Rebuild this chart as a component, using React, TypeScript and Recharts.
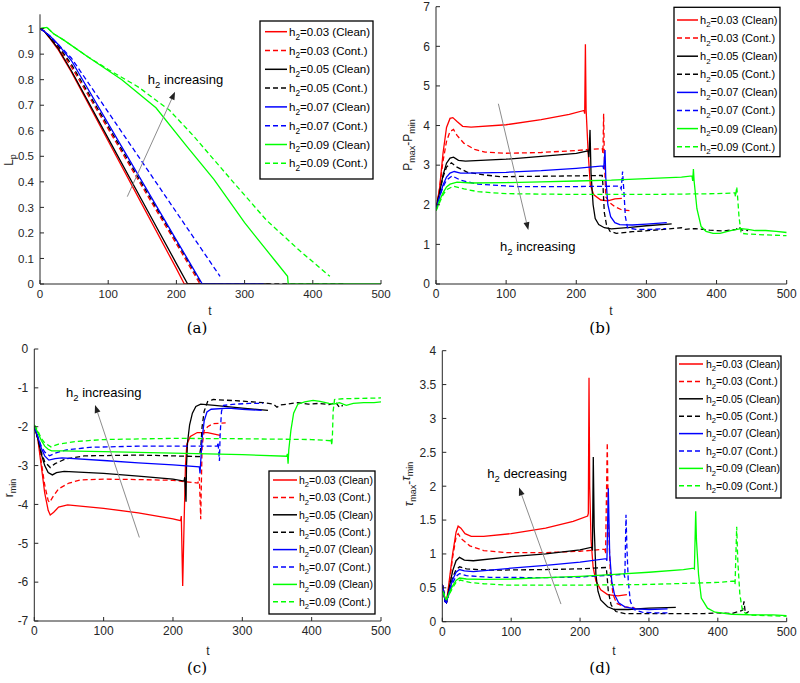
import React from 'react'
import { LineChart, Line, XAxis, YAxis, ReferenceLine, ReferenceDot } from 'recharts'

type Pt = [number, number]

// axis ticks
const T_TICKS = [0, 100, 200, 300, 400, 500]
const LP_TICKS = [0, 0.1, 0.2, 0.3, 0.4, 0.5, 0.6, 0.7, 0.8, 0.9, 1]
const DP_TICKS = [0, 1, 2, 3, 4, 5, 6, 7]
const RMIN_TICKS = [-7, -6, -5, -4, -3, -2, -1, 0]
const TAU_TICKS = [0, 0.5, 1, 1.5, 2, 2.5, 3, 3.5, 4]

const H2_VALUES = ['0.03', '0.05', '0.07', '0.09']
const CASES = ['Clean', 'Cont.']
const COLORS = ['#ff0000', '#000000', '#0000ff', '#00ff00']

// (a) L_p vs t
const lpClean03: Pt[] = [[0, 1], [6, 0.99], [15, 0.96], [26, 0.92], [46, 0.83], [100, 0.56], [150, 0.31], [200, 0.06], [211.6, 0], [265, 0]]
const lpCont03: Pt[] = [[0, 1], [6, 0.99], [15, 0.965], [26, 0.93], [46, 0.85], [100, 0.607], [150, 0.38], [200, 0.157], [234.6, 0], [278, 0]]
const lpClean05: Pt[] = [[0, 1], [6, 0.99], [15, 0.962], [26, 0.925], [46, 0.835], [100, 0.57], [150, 0.325], [200, 0.08], [216.5, 0], [337, 0]]
const lpCont05: Pt[] = [[0, 1], [6, 0.99], [15, 0.968], [26, 0.935], [46, 0.86], [100, 0.617], [150, 0.39], [200, 0.167], [237, 0], [445, 0]]
const lpClean07: Pt[] = [[0, 1], [6, 0.99], [15, 0.97], [26, 0.94], [46, 0.875], [100, 0.628], [150, 0.4], [200, 0.172], [238, 0], [328, 0]]
const lpCont07: Pt[] = [[0, 1], [6, 0.99], [15, 0.97], [26, 0.94], [46, 0.885], [100, 0.673], [150, 0.477], [200, 0.281], [240, 0.124], [264, 0.03]]
const lpClean09: Pt[] = [[0, 1], [10, 1.005], [20, 0.98], [35, 0.955], [70, 0.89], [120, 0.8], [170, 0.69], [215, 0.54], [255, 0.41], [300, 0.24], [345, 0.09], [363, 0.03], [364, 0], [500, 0]]
const lpCont09: Pt[] = [[0, 1], [10, 1.005], [20, 0.98], [35, 0.955], [70, 0.89], [100, 0.84], [145, 0.77], [190, 0.68], [225, 0.58], [283, 0.4], [332, 0.25], [381, 0.13], [425, 0.03]]

// (b) P_max - P_min vs t
const dpClean03: Pt[] = [[0, 1.9], [5, 2.4], [10, 3.3], [15, 3.95], [20, 4.18], [24, 4.2], [30, 4.1], [38, 3.98], [50, 3.96], [100, 4.02], [150, 4.15], [190, 4.28], [211, 4.38], [212, 4.3], [213, 6.05], [214, 4.4], [217, 3.3], [220, 2.5], [225, 2.25], [235, 2.12], [245, 2.1], [255, 2.15], [265, 2.16]]
const dpCont03: Pt[] = [[0, 1.9], [5, 2.4], [10, 3.1], [15, 3.6], [20, 3.85], [25, 3.9], [30, 3.75], [40, 3.55], [55, 3.4], [70, 3.33], [100, 3.3], [150, 3.32], [200, 3.37], [237, 3.42], [238, 3.3], [239, 4.3], [240, 3.2], [242, 2.2], [248, 2.05], [255, 1.95], [265, 1.87], [276, 1.85]]
const dpClean05: Pt[] = [[0, 1.9], [5, 2.3], [10, 2.75], [15, 3.05], [20, 3.18], [25, 3.2], [32, 3.12], [42, 3.1], [100, 3.15], [150, 3.22], [200, 3.3], [217, 3.36], [218, 3.2], [219.6, 3.89], [221, 2.8], [224, 2.0], [227, 1.65], [232, 1.5], [240, 1.42], [250, 1.39], [277, 1.43], [300, 1.47], [336, 1.52]]
const dpCont05: Pt[] = [[0, 1.9], [5, 2.3], [10, 2.7], [15, 2.95], [22, 3.06], [30, 2.95], [45, 2.82], [70, 2.75], [92, 2.71], [150, 2.72], [200, 2.73], [237, 2.74], [238, 2.5], [240, 1.8], [243, 1.5], [248, 1.33], [257, 1.28], [280, 1.32], [320, 1.37], [350, 1.42], [355, 1.38], [370, 1.4], [390, 1.36], [410, 1.34], [428, 1.38], [432, 1.44], [436, 1.36], [445, 1.35]]
const dpClean07: Pt[] = [[0, 1.9], [5, 2.2], [10, 2.5], [15, 2.7], [20, 2.8], [26, 2.84], [35, 2.8], [45, 2.8], [100, 2.82], [150, 2.86], [200, 2.92], [238, 2.98], [239, 2.9], [241, 3.38], [242, 2.7], [245, 2.0], [249, 1.7], [255, 1.55], [262, 1.5], [280, 1.49], [300, 1.51], [329, 1.55]]
const dpCont07: Pt[] = [[0, 1.9], [5, 2.2], [10, 2.45], [15, 2.62], [23, 2.73], [35, 2.62], [60, 2.52], [116, 2.46], [200, 2.46], [262, 2.47], [264, 2.4], [266, 2.84], [268, 2.3], [270, 1.7], [273, 1.42], [285, 1.38], [310, 1.38], [328, 1.4]]
const dpClean09: Pt[] = [[0, 1.85], [5, 2.1], [10, 2.3], [15, 2.45], [20, 2.52], [30, 2.57], [50, 2.55], [100, 2.56], [150, 2.58], [200, 2.6], [250, 2.62], [300, 2.66], [350, 2.7], [365, 2.73], [366, 2.6], [367, 2.9], [368, 2.6], [372, 1.9], [378, 1.45], [385, 1.33], [395, 1.28], [405, 1.28], [420, 1.35], [435, 1.4], [445, 1.38], [455, 1.35], [470, 1.35], [485, 1.33], [500, 1.3]]
const dpCont09: Pt[] = [[0, 1.85], [5, 2.05], [10, 2.25], [15, 2.38], [25, 2.47], [40, 2.4], [60, 2.33], [100, 2.28], [200, 2.26], [300, 2.26], [400, 2.28], [426, 2.3], [427, 2.2], [428.8, 2.45], [430, 2.2], [432, 1.7], [435, 1.28], [445, 1.26], [470, 1.24], [500, 1.22]]

// (c) r_min vs t
const rmClean03: Pt[] = [[0, -2], [5, -2.3], [10, -3.0], [15, -3.7], [20, -4.15], [23, -4.27], [28, -4.2], [35, -4.07], [48, -4.01], [100, -4.1], [150, -4.22], [200, -4.37], [211, -4.42], [212, -4.3], [214, -6.1], [216, -4.5], [218, -3.0], [220, -2.45], [225, -2.25], [235, -2.15], [250, -2.15], [268, -2.22]]
const rmCont03: Pt[] = [[0, -2], [5, -2.3], [10, -2.9], [15, -3.5], [20, -3.9], [22, -3.95], [27, -3.8], [35, -3.6], [50, -3.45], [67, -3.37], [100, -3.35], [150, -3.36], [200, -3.38], [236, -3.45], [238, -3.3], [240, -4.38], [241, -3.4], [242, -2.5], [245, -2.1], [250, -2.0], [258, -1.92], [276, -1.9]]
const rmClean05: Pt[] = [[0, -2], [5, -2.3], [10, -2.7], [15, -3.0], [20, -3.18], [26, -3.24], [32, -3.18], [43, -3.15], [100, -3.2], [150, -3.27], [200, -3.35], [216, -3.4], [217, -3.3], [218.8, -3.93], [219.5, -3.0], [221, -2.4], [224, -1.95], [228, -1.65], [233, -1.48], [240, -1.42], [260, -1.45], [300, -1.52], [337, -1.58]]
const rmCont05: Pt[] = [[0, -2], [5, -2.3], [10, -2.65], [15, -2.9], [23, -3.05], [30, -2.95], [45, -2.83], [72, -2.75], [150, -2.73], [200, -2.75], [238, -2.77], [240, -2.55], [242, -2.0], [245, -1.6], [250, -1.35], [258, -1.3], [290, -1.33], [330, -1.38], [345, -1.42], [350, -1.5], [355, -1.44], [365, -1.42], [380, -1.38], [395, -1.42], [410, -1.4], [425, -1.43], [435, -1.38], [440, -1.5], [445, -1.45]]
const rmClean07: Pt[] = [[0, -2], [5, -2.25], [10, -2.55], [15, -2.75], [21, -2.86], [30, -2.82], [40, -2.8], [100, -2.87], [150, -2.93], [200, -2.98], [238, -3.03], [239, -3.2], [240, -2.9], [242, -2.3], [245, -1.85], [249, -1.62], [255, -1.55], [280, -1.52], [300, -1.55], [328, -1.58]]
const rmCont07: Pt[] = [[0, -2], [5, -2.25], [10, -2.5], [15, -2.65], [22, -2.75], [30, -2.68], [45, -2.6], [80, -2.53], [150, -2.5], [200, -2.5], [264, -2.5], [265, -2.4], [267, -2.88], [268, -2.2], [270, -1.6], [273, -1.45], [290, -1.42], [310, -1.4], [330, -1.4]]
const rmClean09: Pt[] = [[0, -1.95], [5, -2.15], [10, -2.35], [15, -2.5], [20, -2.58], [25, -2.62], [40, -2.62], [100, -2.64], [200, -2.68], [300, -2.72], [364, -2.76], [365, -2.7], [366, -2.95], [367, -2.6], [370, -2.1], [374, -1.65], [380, -1.42], [390, -1.36], [402, -1.32], [412, -1.35], [425, -1.4], [432, -1.42], [440, -1.38], [450, -1.45], [460, -1.4], [475, -1.38], [490, -1.38], [500, -1.36]]
const rmCont09: Pt[] = [[0, -1.95], [5, -2.1], [10, -2.3], [15, -2.42], [24, -2.52], [35, -2.45], [60, -2.38], [100, -2.33], [200, -2.3], [300, -2.31], [400, -2.33], [427, -2.36], [428, -2.3], [429, -2.48], [430, -2.2], [431, -1.6], [433, -1.3], [445, -1.28], [500, -1.26]]

// (d) tau_max - tau_min vs t
const tauClean03: Pt[] = [[0, 0.55], [2, 0.45], [4, 0.3], [6, 0.28], [10, 0.6], [15, 1.0], [20, 1.32], [23, 1.41], [27, 1.38], [33, 1.3], [42, 1.26], [60, 1.26], [100, 1.3], [150, 1.38], [190, 1.48], [211, 1.56], [212, 1.6], [213, 3.6], [214, 2.0], [216, 1.2], [219, 0.8], [223, 0.6], [230, 0.47], [240, 0.4], [255, 0.38], [268, 0.4]]
const tauCont03: Pt[] = [[0, 0.55], [2, 0.45], [4, 0.3], [6, 0.28], [10, 0.55], [15, 0.95], [20, 1.25], [23, 1.3], [28, 1.22], [40, 1.12], [60, 1.05], [93, 1.02], [150, 1.02], [200, 1.04], [236, 1.07], [237, 1.0], [239.5, 2.64], [241, 1.5], [244, 0.7], [248, 0.4], [253, 0.27], [265, 0.22], [280, 0.2]]
const tauClean05: Pt[] = [[0, 0.55], [2, 0.45], [4, 0.3], [6, 0.28], [10, 0.5], [15, 0.75], [20, 0.9], [25, 0.95], [32, 0.91], [45, 0.9], [100, 0.96], [150, 1.0], [200, 1.06], [217, 1.1], [218, 1.05], [219.2, 2.43], [220.5, 1.4], [223, 0.7], [226, 0.45], [230, 0.32], [240, 0.22], [250, 0.18], [270, 0.18], [300, 0.2], [339, 0.21]]
const tauCont05: Pt[] = [[0, 0.55], [2, 0.45], [4, 0.3], [6, 0.28], [10, 0.45], [15, 0.65], [20, 0.77], [25, 0.81], [35, 0.78], [69, 0.76], [150, 0.77], [200, 0.78], [238, 0.8], [239, 0.7], [241, 0.45], [245, 0.25], [252, 0.15], [265, 0.12], [300, 0.12], [350, 0.12], [380, 0.12], [400, 0.13], [420, 0.12], [430, 0.15], [436, 0.17], [438, 0.3], [440, 0.12], [445, 0.15]]
const tauClean07: Pt[] = [[0, 0.55], [2, 0.45], [4, 0.3], [6, 0.28], [10, 0.45], [15, 0.62], [20, 0.73], [25, 0.77], [32, 0.75], [45, 0.74], [100, 0.79], [150, 0.83], [200, 0.88], [238, 0.93], [239, 0.9], [241, 1.97], [243, 1.0], [246, 0.6], [250, 0.4], [256, 0.28], [265, 0.22], [280, 0.19], [300, 0.18], [327, 0.19]]
const tauCont07: Pt[] = [[0, 0.55], [2, 0.45], [4, 0.3], [6, 0.28], [10, 0.42], [15, 0.57], [20, 0.67], [25, 0.71], [35, 0.68], [69, 0.655], [150, 0.65], [200, 0.66], [264, 0.7], [265, 0.65], [266.7, 1.58], [268, 1.1], [270, 0.6], [273, 0.3], [278, 0.18], [290, 0.14], [310, 0.13], [328, 0.13]]
const tauClean09: Pt[] = [[0, 0.45], [2, 0.42], [4, 0.35], [6, 0.33], [10, 0.42], [15, 0.53], [20, 0.61], [25, 0.645], [35, 0.63], [60, 0.625], [100, 0.63], [150, 0.65], [200, 0.67], [250, 0.7], [300, 0.73], [350, 0.77], [365, 0.79], [366, 0.78], [367.9, 1.63], [369, 1.2], [372, 0.7], [376, 0.35], [385, 0.2], [396, 0.14], [420, 0.11], [450, 0.1], [480, 0.1], [500, 0.09]]
const tauCont09: Pt[] = [[0, 0.45], [2, 0.42], [4, 0.35], [6, 0.33], [10, 0.4], [15, 0.5], [20, 0.58], [26, 0.615], [40, 0.58], [60, 0.56], [94, 0.54], [200, 0.54], [300, 0.55], [400, 0.58], [424, 0.6], [425, 0.55], [427.4, 1.4], [429, 0.9], [432, 0.4], [436, 0.15], [445, 0.1], [470, 0.09], [500, 0.08]]

const AX = '#262626'
const FONT = '"Liberation Sans", Arial, Helvetica, sans-serif'
const DASH = '5 3'

const BottomTick = (p: any, fs: number) => (
  <g>
    <line x1={p.x} x2={p.x} y1={p.y - 5} y2={p.y - 9} stroke={AX} />
    <text x={p.x} y={p.y} dy="0.75em" textAnchor="middle" fontSize={fs} fill={AX} fontFamily={FONT}>{p.payload.value}</text>
  </g>
)
const LeftTick = (p: any, fs: number) => (
  <g>
    <line x1={p.x + 6} x2={p.x + 10} y1={p.y} y2={p.y} stroke={AX} />
    <text x={p.x} y={p.y} dy="0.36em" textAnchor="end" fontSize={fs} fill={AX} fontFamily={FONT}>{p.payload.value}</text>
  </g>
)
const TopTick = (p: any) => <line x1={p.x} x2={p.x} y1={p.y} y2={p.y + 4} stroke={AX} />
const RightTick = (p: any) => <line x1={p.x} x2={p.x - 4} y1={p.y} y2={p.y} stroke={AX} />

const ArrowShape = (p: any) => {
  const { x1, y1, x2, y2 } = p
  const a = Math.atan2(y2 - y1, x2 - x1)
  const L = 8, W = 3
  const bx = x2 - L * Math.cos(a), by = y2 - L * Math.sin(a)
  const nx = -Math.sin(a) * W, ny = Math.cos(a) * W
  return (
    <g>
      <line x1={x1} y1={y1} x2={bx} y2={by} stroke="#8c8c8c" strokeWidth={1} />
      <polygon points={`${x2},${y2} ${bx + nx},${by + ny} ${bx - nx},${by - ny}`} fill="#222" />
    </g>
  )
}

function Panel(props: any) {
  const { pos, size, margin, yDomain, yTicks, yAxisWidth, fs, series, arrow, note } = props
  return (
    <div style={{ position: 'absolute', left: pos[0], top: pos[1] }}>
      <LineChart width={size[0]} height={size[1]} margin={margin}>
        <XAxis type="number" dataKey="t" domain={[0, 500]} ticks={T_TICKS} interval={0} allowDataOverflow height={30}
          axisLine={{ stroke: AX }} tickLine={false} tickSize={0} tickMargin={5} tick={(p: any) => BottomTick(p, fs)} />
        <XAxis xAxisId="top" orientation="top" type="number" dataKey="t" domain={[0, 500]} ticks={T_TICKS} interval={0} height={0}
          axisLine={{ stroke: AX }} tickLine={false} tickSize={0} tickMargin={0} tick={TopTick} />
        <YAxis type="number" domain={yDomain} ticks={yTicks} interval={0} allowDataOverflow width={yAxisWidth}
          axisLine={{ stroke: AX }} tickLine={false} tickSize={0} tickMargin={6} tick={(p: any) => LeftTick(p, fs)} />
        <YAxis yAxisId="r" orientation="right" type="number" domain={yDomain} ticks={yTicks} interval={0} width={0}
          axisLine={{ stroke: AX }} tickLine={false} tickSize={0} tickMargin={0} tick={RightTick} />
        {series.map((pts: Pt[], i: number) => (
          <Line key={i} data={pts.map(([t, v]) => ({ t, v }))} dataKey="v" type="linear"
            stroke={COLORS[Math.floor(i / 2)]} strokeWidth={1.3} strokeDasharray={i % 2 ? DASH : undefined}
            dot={false} activeDot={false} isAnimationActive={false} />
        ))}
        <ReferenceLine segment={[{ x: arrow[0], y: arrow[1] }, { x: arrow[2], y: arrow[3] }]} shape={ArrowShape} ifOverflow="visible" />
        <ReferenceDot x={note.x} y={note.y} r={0} ifOverflow="visible" shape={(p: any) => (
          <text x={p.cx} y={p.cy} fontSize={13} fill="#000" fontFamily={FONT}>
            h<tspan fontSize={9.5} dy={4}>2</tspan><tspan dy={-4}>{' ' + note.text}</tspan>
          </text>
        )} />
      </LineChart>
    </div>
  )
}

function LegendBox({ x, y, w, h, row0, gap, fs, sx, sl, tx }: any) {
  const rows: any[] = []
  H2_VALUES.forEach((hv, k) => CASES.forEach((c, j) => {
    const cy = y + row0 + (k * 2 + j) * gap
    rows.push(
      <g key={k * 2 + j}>
        <line x1={x + sx} x2={x + sx + sl} y1={cy} y2={cy} stroke={COLORS[k]} strokeWidth={1.5} strokeDasharray={j ? DASH : undefined} />
        <text x={x + tx} y={cy} dy="0.36em" fontSize={fs} fill="#000" fontFamily={FONT}>
          h<tspan fontSize={fs * 0.72} dy={fs * 0.32}>2</tspan><tspan dy={-fs * 0.32}>{`=${hv} (${c})`}</tspan>
        </text>
      </g>
    )
  }))
  return (
    <g>
      <rect x={x} y={y} width={w} height={h} fill="#fff" stroke="#000" strokeWidth={1.3} />
      {rows}
    </g>
  )
}

const YLabel = ({ x, y, parts }: any) => (
  <text transform={`translate(${x},${y}) rotate(-90)`} textAnchor="middle" fontSize={12} fill={AX} fontFamily={FONT}>
    {parts.map((s: any, i: number) => s.sub
      ? <tspan key={i} fontSize={9} dy={3}>{s.t}</tspan>
      : <tspan key={i} dy={i > 0 ? -3 : 0} fontStyle={s.it ? 'italic' : undefined}>{s.t}</tspan>)}
  </text>
)

export default function App() {
  return (
    <div style={{ position: 'absolute', left: 0, top: 0, width: 800, height: 683, background: '#fff' }}>
      <Panel pos={[0, 0]} size={[400, 340]} margin={{ top: 14.3, right: 19, bottom: 26, left: 0 }}
        yDomain={[0, 1.056]} yTicks={LP_TICKS} yAxisWidth={40} fs={11.5}
        series={[lpClean03, lpCont03, lpClean05, lpCont05, lpClean07, lpCont07, lpClean09, lpCont09]}
        arrow={[128, 0.342, 198, 0.753]} note={{ x: 158, y: 0.785, text: 'increasing' }} />
      <Panel pos={[400, 0]} size={[400, 340]} margin={{ top: 6.7, right: 13.3, bottom: 26, left: 0 }}
        yDomain={[0, 7]} yTicks={DP_TICKS} yAxisWidth={36} fs={12}
        series={[dpClean03, dpCont03, dpClean05, dpCont05, dpClean07, dpCont07, dpClean09, dpCont09]}
        arrow={[88.9, 4.55, 131.6, 1.36]} note={{ x: 91.3, y: 0.84, text: 'increasing' }} />
      <Panel pos={[0, 340]} size={[400, 343]} margin={{ top: 9, right: 19, bottom: 32, left: 0 }}
        yDomain={[-7, 0]} yTicks={RMIN_TICKS} yAxisWidth={34.3} fs={12}
        series={[rmClean03, rmCont03, rmClean05, rmCont05, rmClean07, rmCont07, rmClean09, rmCont09]}
        arrow={[151.5, -4.85, 87.6, -1.44]} note={{ x: 45.7, y: -1.227, text: 'increasing' }} />
      <Panel pos={[400, 340]} size={[400, 343]} margin={{ top: 10.7, right: 13.3, bottom: 31.3, left: 0 }}
        yDomain={[0, 4]} yTicks={TAU_TICKS} yAxisWidth={42.3} fs={12}
        series={[tauClean03, tauCont03, tauClean05, tauCont05, tauClean07, tauCont07, tauClean09, tauCont09]}
        arrow={[172.3, 0.26, 111.4, 1.98]} note={{ x: 65.3, y: 2.125, text: 'decreasing' }} />

      <svg width={800} height={683} style={{ position: 'absolute', left: 0, top: 0, pointerEvents: 'none' }}>
        <LegendBox x={260} y={21} w={113} h={158} row0={10.7} gap={18.8} fs={11.5} sx={5} sl={22} tx={29} />
        <LegendBox x={674} y={7.3} w={106} h={149.4} row0={12.7} gap={18.1} fs={11} sx={3} sl={21} tx={26} />
        <LegendBox x={269} y={471} w={106} h={143} row0={9} gap={17.4} fs={10.5} sx={4} sl={24} tx={30} />
        <LegendBox x={676} y={356} w={105} h={142} row0={8} gap={17.4} fs={10.5} sx={3} sl={24} tx={30} />

        <YLabel x={13} y={160} parts={[{ t: 'L' }, { t: 'p', sub: true }]} />
        <YLabel x={412} y={145} parts={[{ t: 'P' }, { t: 'max', sub: true }, { t: '-P' }, { t: 'min', sub: true }]} />
        <YLabel x={13} y={488} parts={[{ t: 'r' }, { t: 'min', sub: true }]} />
        <YLabel x={413} y={484} parts={[{ t: 'τ', it: true }, { t: 'max', sub: true }, { t: '-', }, { t: 'τ', it: true }, { t: 'min', sub: true }]} />

        <g fontFamily={FONT} fontSize={12} fill={AX} textAnchor="middle">
          <text x={210} y={315}>t</text>
          <text x={611} y={315}>t</text>
          <text x={208} y={655}>t</text>
          <text x={614} y={655}>t</text>
        </g>
        <g fontFamily='"DejaVu Serif", serif' fontSize={15} fill="#000" textAnchor="middle">
          <text x={197} y={333}>(a)</text>
          <text x={600} y={333}>(b)</text>
          <text x={197} y={673}>(c)</text>
          <text x={600} y={673}>(d)</text>
        </g>
      </svg>
    </div>
  )
}
